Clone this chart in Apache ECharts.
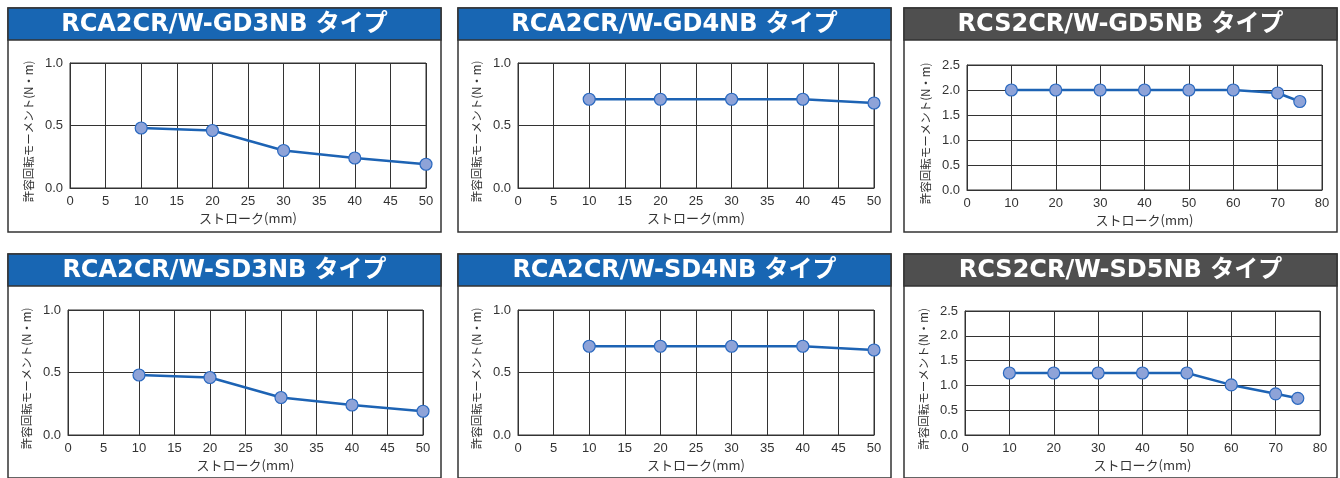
<!DOCTYPE html>
<html>
<head>
<meta charset="utf-8">
<script src="https://cdn.jsdelivr.net/npm/echarts@6/dist/echarts.min.js"></script>
<style>
html,body{margin:0;padding:0;background:#fff;}
#c{width:1340px;height:478px;}
</style>
</head>
<body>
<div id="c"></div>
<script>
// ---- data ----
const panelTitles = ['RCA2CR/W-GD3NB タイプ','RCA2CR/W-GD4NB タイプ','RCS2CR/W-GD5NB タイプ',
                     'RCA2CR/W-SD3NB タイプ','RCA2CR/W-SD4NB タイプ','RCS2CR/W-SD5NB タイプ'];
const strokeShort = [10, 20, 30, 40, 50];
const strokeLong = [10, 20, 30, 40, 50, 60, 70, 75];
const momentGD3 = [0.48, 0.46, 0.30, 0.24, 0.19];
const momentGD4 = [0.71, 0.71, 0.71, 0.71, 0.68];
const momentGD5 = [2.0, 2.0, 2.0, 2.0, 2.0, 2.0, 1.94, 1.77];
const momentSD3 = [0.48, 0.46, 0.30, 0.24, 0.19];
const momentSD4 = [0.71, 0.71, 0.71, 0.71, 0.68];
const momentSD5 = [1.25, 1.25, 1.25, 1.25, 1.25, 1.01, 0.83, 0.74];
const xMaxShort = 50, xStepShort = 5;
const xMaxLong = 80, xStepLong = 10;
const yMaxSmall = 1.0, yMaxLarge = 2.5, yStep = 0.5;
const xName = 'ストローク(mm)';
const yName = '許容回転モーメント(N・m)';

// ---- layout ----
const panels = [
  {box:[8,8,433], bar:'#1866b3', grid:[70,63,356,125], x:[strokeShort,xMaxShort,xStepShort], y:[momentGD3,yMaxSmall]},
  {box:[458,8,433], bar:'#1866b3', grid:[518,63,356,125], x:[strokeShort,xMaxShort,xStepShort], y:[momentGD4,yMaxSmall]},
  {box:[904,8,433], bar:'#4f4f4f', grid:[967,65,355,125], x:[strokeLong,xMaxLong,xStepLong], y:[momentGD5,yMaxLarge]},
  {box:[8,254,433], bar:'#1866b3', grid:[68,310,355,125], x:[strokeShort,xMaxShort,xStepShort], y:[momentSD3,yMaxSmall]},
  {box:[458,254,433], bar:'#1866b3', grid:[518,310,356,125], x:[strokeShort,xMaxShort,xStepShort], y:[momentSD4,yMaxSmall]},
  {box:[904,254,433], bar:'#4f4f4f', grid:[965,311,355,124], x:[strokeLong,xMaxLong,xStepLong], y:[momentSD5,yMaxLarge]}
];

const chart = echarts.init(document.getElementById('c'), null, {renderer:'canvas'});
const grids = [], xAxes = [], yAxes = [], series = [], graphics = [];
const labelFont = {color:'#333', fontSize:13, fontFamily:'Liberation Sans, Arial, sans-serif'};
const xNameFont = {color:'#333', fontSize:13, fontFamily:'Noto Sans CJK JP, sans-serif'};
const yNameFont = {color:'#333', fontSize:11.5, fontFamily:'Noto Sans CJK JP, sans-serif', padding:[0,12,0,0]};

panels.forEach((p, i) => {
  const [bx, by, bw] = p.box;
  graphics.push({type:'rect', z:-10, shape:{x:bx, y:by, width:bw, height:224},
    style:{fill:'#fff', stroke:'#333', lineWidth:1.5}});
  graphics.push({type:'rect', z:-9, shape:{x:bx, y:by, width:bw, height:32},
    style:{fill:p.bar, stroke:'#333', lineWidth:1.5}});
  graphics.push({type:'text', z:-8, x:bx + bw/2, y:by + 17,
    style:{text:panelTitles[i], fill:'#fff', font:'bold 24px "DejaVu Sans", "Noto Sans CJK JP", sans-serif',
      align:'center', verticalAlign:'middle'}});
  const [gl, gt, gw, gh] = p.grid;
  grids.push({left:gl, top:gt, width:gw, height:gh, show:true, borderColor:'#333', borderWidth:1, backgroundColor:'transparent'});
  xAxes.push({type:'value', gridIndex:i, min:0, max:p.x[1], interval:p.x[2],
    name:xName, nameLocation:'middle', nameGap:24, nameTextStyle:xNameFont,
    axisLine:{show:true, lineStyle:{color:'#333', width:1}}, axisTick:{show:false},
    axisLabel:Object.assign({margin:7}, labelFont),
    splitLine:{show:true, lineStyle:{color:'#333', width:1}}});
  yAxes.push({type:'value', gridIndex:i, min:0, max:p.y[1], interval:yStep,
    name:yName, nameLocation:'middle', nameRotate:90, nameGap:36, nameTextStyle:yNameFont,
    axisLine:{show:true, lineStyle:{color:'#333', width:1}}, axisTick:{show:false},
    axisLabel:Object.assign({margin:7, formatter:v => v.toFixed(1)}, labelFont),
    splitLine:{show:true, lineStyle:{color:'#333', width:1}}});
  series.push({type:'line', xAxisIndex:i, yAxisIndex:i,
    data:p.x[0].map((s, k) => [s, p.y[0][k]]),
    symbol:'circle', symbolSize:12, showSymbol:true,
    lineStyle:{color:'#1d63b4', width:2.5},
    itemStyle:{color:'#8ea3d8', borderColor:'#2a69c0', borderWidth:1.2},
    emphasis:{disabled:true}, animation:false, z:5});
});

chart.setOption({
  animation:false,
  backgroundColor:'#fff',
  grid:grids, xAxis:xAxes, yAxis:yAxes, series:series,
  graphic:graphics
});
</script>
</body>
</html>
